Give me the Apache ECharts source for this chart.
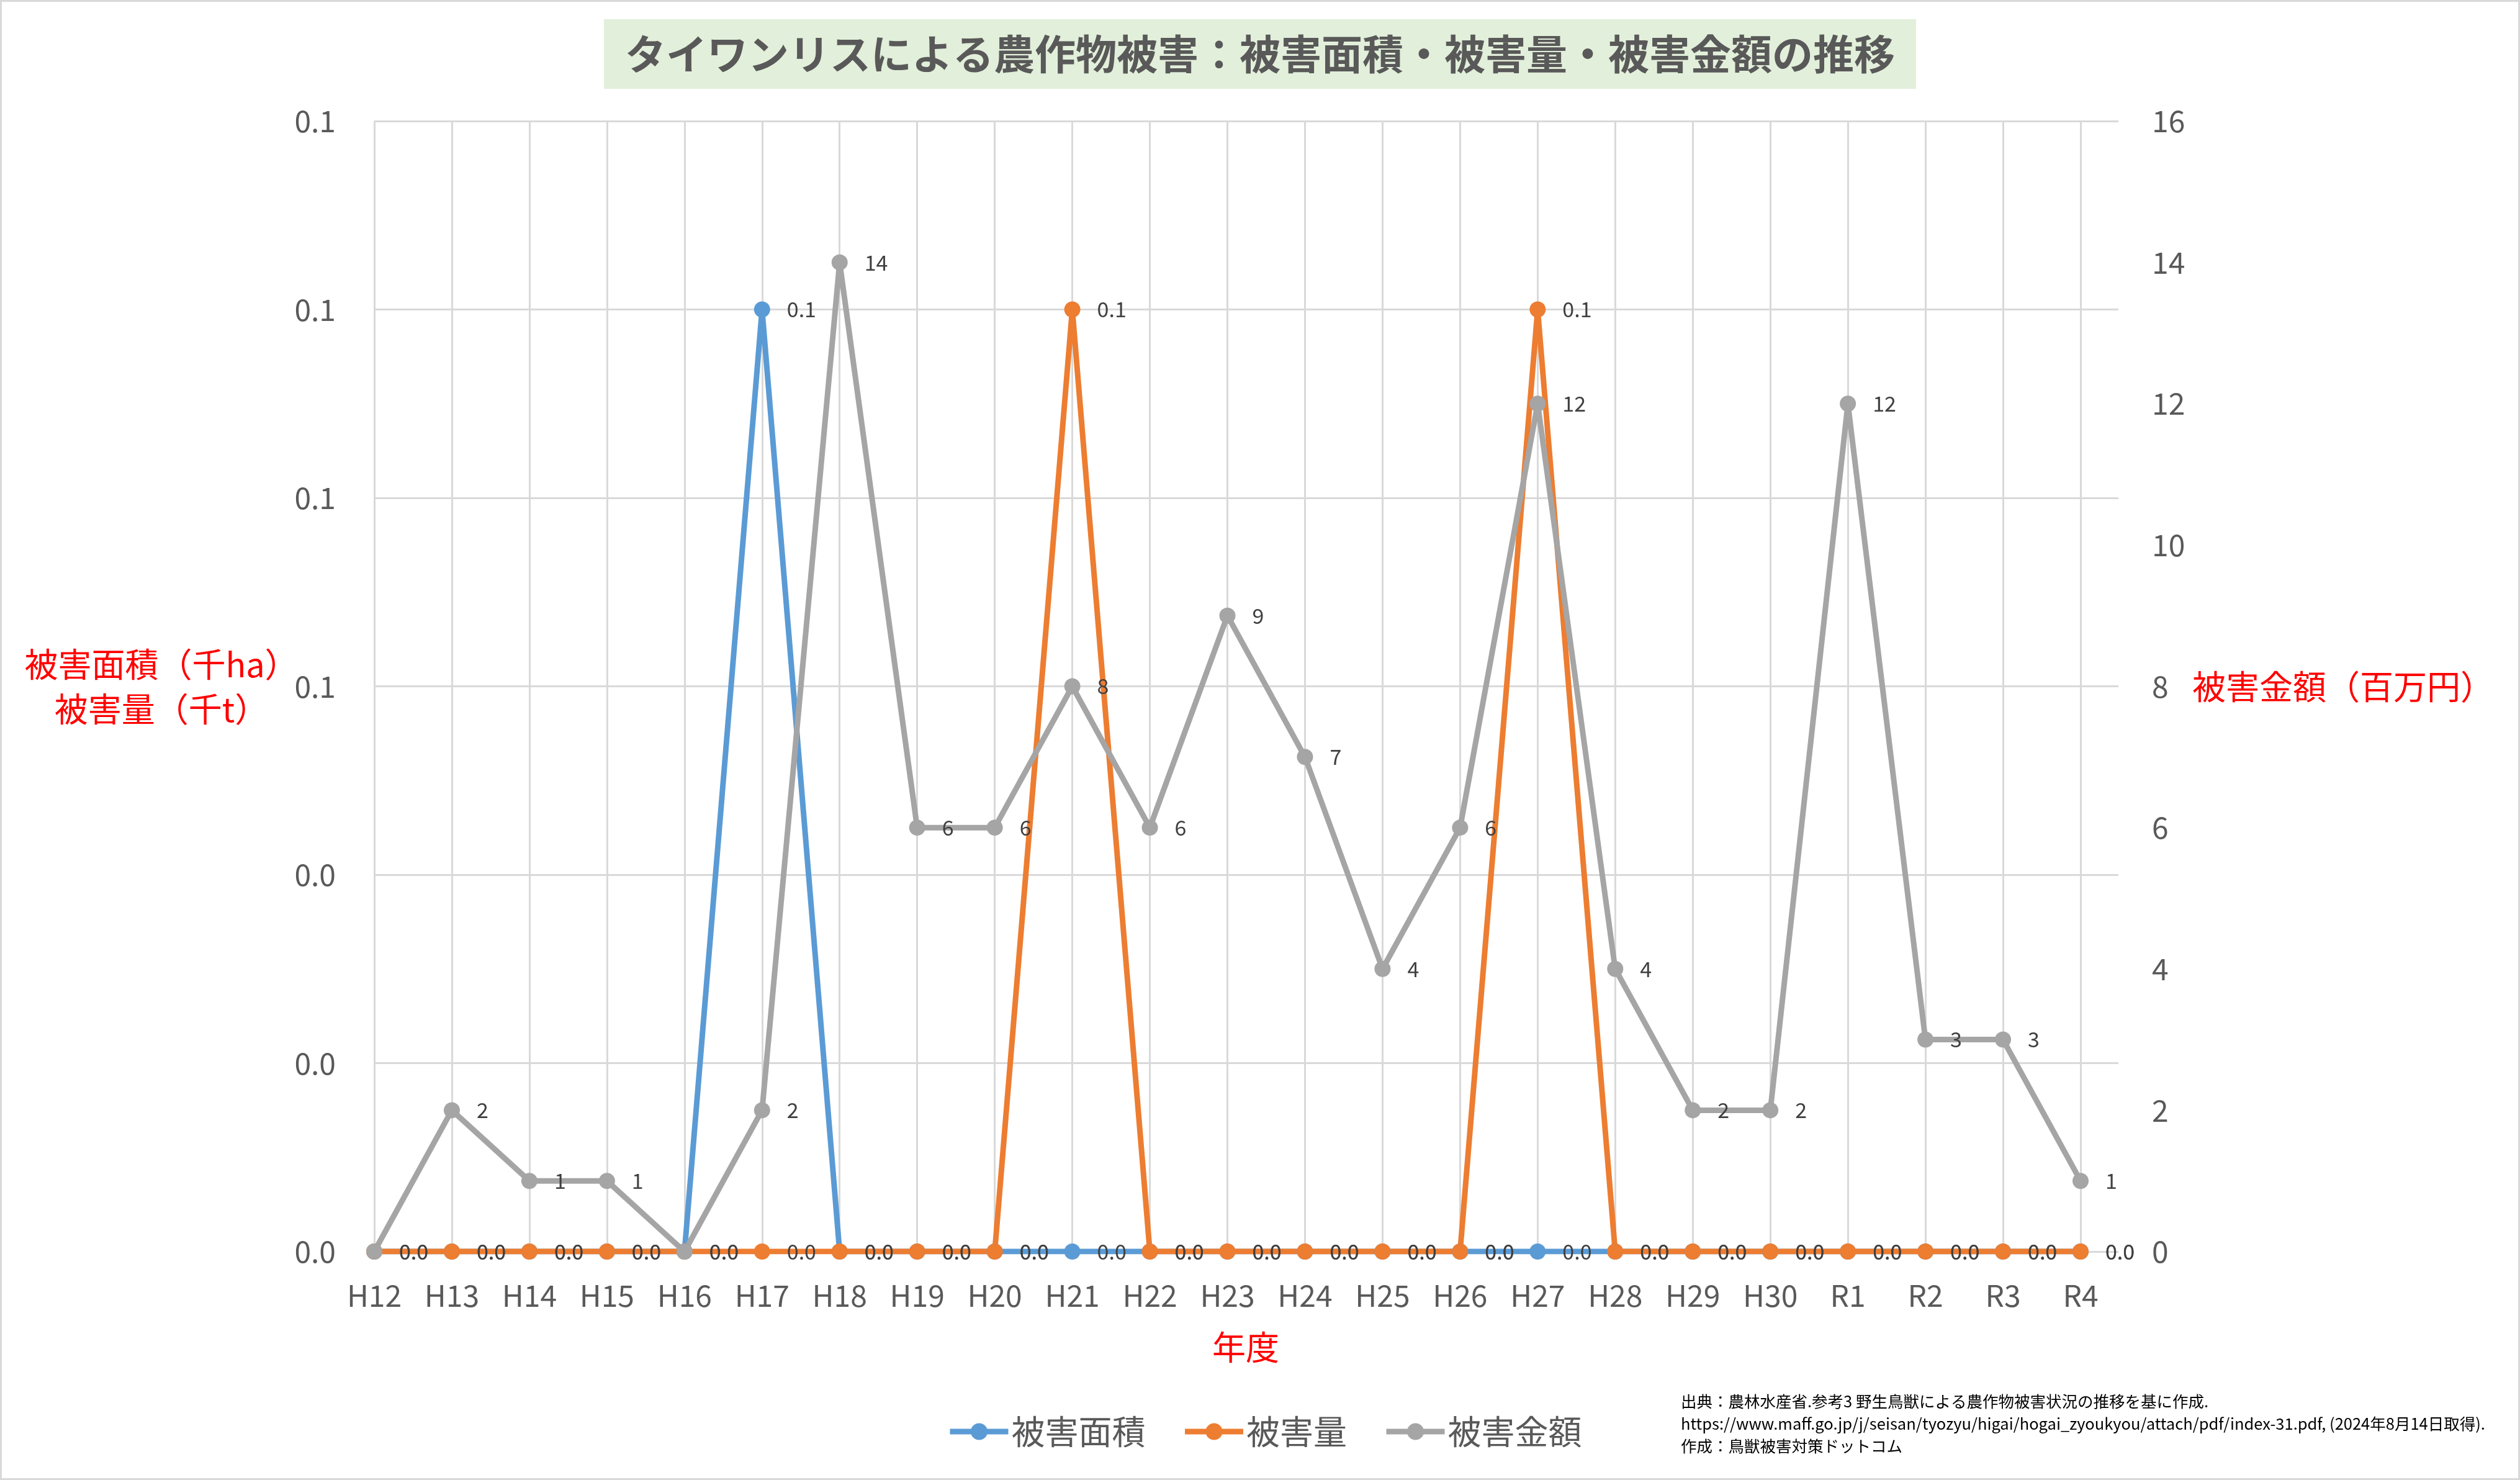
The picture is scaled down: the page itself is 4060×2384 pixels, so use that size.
<!DOCTYPE html>
<html><head><meta charset="utf-8">
<script src="https://cdn.jsdelivr.net/npm/echarts@6/dist/echarts.min.js"></script>
<style>
html,body{margin:0;padding:0;background:#fff}
#c{width:4060px;height:2384px}
#b{position:absolute;left:0;top:0;width:4060px;height:2384px;box-sizing:border-box;border:3px solid #d9d9d9;pointer-events:none}
</style>
</head><body><div id="c"></div><div id="b"></div>
<script>
const categories = ['H12','H13','H14','H15','H16','H17','H18','H19','H20','H21','H22','H23','H24','H25','H26','H27','H28','H29','H30','R1','R2','R3','R4'];
const areaValues   = [0,0,0,0,0,0.1,0,0,0,0,0,0,0,0,0,0,0,0,0,0,0,0,0];
const volumeValues = [0,0,0,0,0,0,0,0,0,0.1,0,0,0,0,0,0.1,0,0,0,0,0,0,0];
const costValues   = [0,2,1,1,0,2,14,6,6,8,6,9,7,4,6,12,4,2,2,12,3,3,1];
const seriesNames  = ['被害面積','被害量','被害金額'];
const seriesColors = ['#5B9BD5','#ED7D31','#A5A5A5'];
const leftAxisTicks  = [0,0.02,0.04,0.06,0.08,0.10,0.12];
const rightAxisTicks = [0,2,4,6,8,10,12,14,16];

const FONT = '"Noto Sans CJK JP","Noto Sans",sans-serif';
const chart = echarts.init(document.getElementById('c'), null, {renderer:'canvas'});

function lineSeries(i, data, yIndex, fmt) {
  return {
    name: seriesNames[i], type: 'line', data: data,
    xAxisIndex: 0, yAxisIndex: yIndex,
    symbol: 'circle', symbolSize: 26, showAllSymbol: true,
    lineStyle: {width: 9, color: seriesColors[i]},
    itemStyle: {color: seriesColors[i]},
    label: {show: true, position: 'right', distance: 27, fontSize: 34, color: '#404040', fontFamily: FONT, formatter: fmt},
    emphasis: {disabled: true},
    animation: false
  };
}

const option = {
  textStyle: {fontFamily: FONT},
  animation: false,
  title: [
    {text: 'タイワンリスによる農作物被害：被害面積・被害量・被害金額の推移', left: 'center', top: 31,
     padding: [22, 34], backgroundColor: '#E2EFDA',
     textStyle: {fontSize: 66, fontWeight: 'bold', color: '#595959', lineHeight: 68, fontFamily: FONT}},
    {text: '被害面積（千ha）\n被害量（千t）', left: 260, top: 1106, padding: 0, textAlign: 'center', textVerticalAlign: 'middle',
     textStyle: {fontSize: 54, fontWeight: 'normal', color: '#FF0000', lineHeight: 72, fontFamily: FONT}},
    {text: '被害金額（百万円）', left: 3775, top: 1106, padding: 0, textAlign: 'center', textVerticalAlign: 'middle',
     textStyle: {fontSize: 54, fontWeight: 'normal', color: '#FF0000', fontFamily: FONT}},
    {text: '年度', left: 2007, top: 2170, padding: 0, textAlign: 'center', textVerticalAlign: 'middle',
     textStyle: {fontSize: 54, fontWeight: 'normal', color: '#FF0000', fontFamily: FONT}},
    {text: '出典：農林水産省.参考3 野生鳥獣による農作物被害状況の推移を基に作成.\nhttps://www.maff.go.jp/j/seisan/tyozyu/higai/hogai_zyoukyou/attach/pdf/index-31.pdf, (2024年8月14日取得).\n作成：鳥獣被害対策ドットコム',
     left: 2708, top: 2239, padding: 0,
     textStyle: {fontSize: 25.5, fontWeight: 'normal', color: '#000000', lineHeight: 36, fontFamily: FONT}}
  ],
  legend: {
    data: seriesNames, left: 1526, top: 2276, padding: 0,
    itemWidth: 94, itemHeight: 34, itemGap: 59,
    lineStyle: {width: 9},
    textStyle: {fontSize: 54, color: '#595959', lineHeight: 60, fontFamily: FONT}
  },
  grid: [
    {left: 603, right: 4060 - 3352, top: 195, bottom: 2384 - 2016, containLabel: false},
    {left: 603, right: 4060 - 3413, top: 195, bottom: 2384 - 2016, containLabel: false}
  ],
  xAxis: [
    {type: 'category', gridIndex: 0, data: categories, boundaryGap: false,
     axisLine: {show: false}, axisTick: {show: false},
     splitLine: {show: true, lineStyle: {color: '#d9d9d9', width: 3}},
     axisLabel: {fontSize: 48, color: '#595959', margin: 47, interval: 0, fontFamily: FONT}},
    {type: 'value', gridIndex: 1, min: 0, max: 1, show: false}
  ],
  yAxis: [
    {type: 'value', gridIndex: 0, position: 'left', min: leftAxisTicks[0], max: leftAxisTicks[leftAxisTicks.length-1],
     interval: leftAxisTicks[1] - leftAxisTicks[0],
     axisLine: {show: false}, axisTick: {show: false}, splitLine: {show: false},
     axisLabel: {fontSize: 48, color: '#595959', margin: 62, fontFamily: FONT, formatter: v => v.toFixed(1)}},
    {type: 'value', gridIndex: 0, position: 'right', min: rightAxisTicks[0], max: rightAxisTicks[rightAxisTicks.length-1],
     interval: rightAxisTicks[1] - rightAxisTicks[0],
     axisLine: {show: false}, axisTick: {show: false}, splitLine: {show: false},
     axisLabel: {fontSize: 48, color: '#595959', margin: 115, fontFamily: FONT}},
    {type: 'value', gridIndex: 1, min: 0, max: leftAxisTicks.length - 1, interval: 1,
     axisLine: {show: false}, axisTick: {show: false}, axisLabel: {show: false},
     splitLine: {show: true, lineStyle: {color: '#d9d9d9', width: 3}}}
  ],
  series: [
    lineSeries(0, areaValues, 0, p => p.value.toFixed(1)),
    lineSeries(1, volumeValues, 0, p => p.value.toFixed(1)),
    lineSeries(2, costValues, 1, p => (p.value === 0 ? '' : String(p.value)))
  ]
};
chart.setOption(option);
</script>
</body></html>
